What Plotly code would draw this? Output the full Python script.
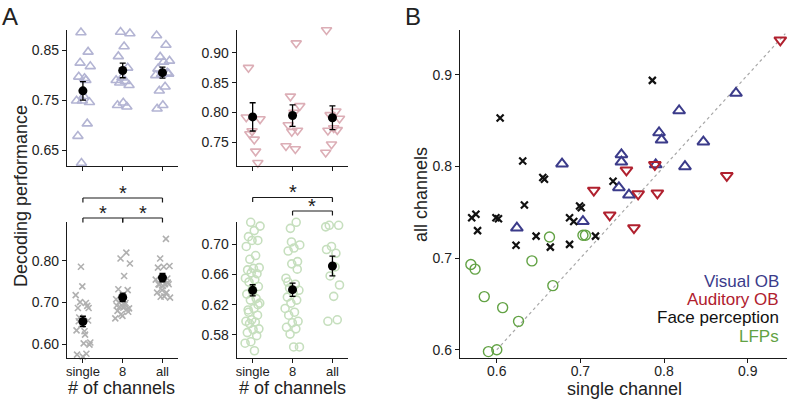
import numpy as np
import plotly.graph_objects as go

# ---------------- data ----------------
categories = ["single", "8", "all"]

visual_single = [0.886, 0.818, 0.794, 0.797, 0.847, 0.749, 0.749, 0.790, 0.825, 0.746, 0.758, 0.678, 0.703, 0.624]
visual_8 = [0.895, 0.887, 0.884, 0.858, 0.838, 0.815, 0.795, 0.790, 0.788, 0.785, 0.780, 0.745, 0.740, 0.737]
visual_all = [0.880, 0.861, 0.837, 0.829, 0.827, 0.813, 0.805, 0.802, 0.800, 0.777, 0.769, 0.803, 0.740, 0.733]

auditory_single = [0.939, 0.789, 0.755, 0.875, 0.716, 0.769, 0.792, 0.735, 0.764]
auditory_8 = [0.916, 0.827, 0.811, 0.800, 0.779, 0.770, 0.768, 0.744, 0.739]
auditory_all = [0.938, 0.802, 0.796, 0.790, 0.774, 0.770, 0.771, 0.747, 0.733]

face_single = [0.786, 0.604, 0.631, 0.655, 0.657, 0.739, 0.633, 0.699, 0.701, 0.599, 0.602,
               0.687, 0.692, 0.647, 0.718, 0.623, 0.664, 0.687, 0.570, 0.575, 0.577]
face_8 = [0.820, 0.806, 0.794, 0.764, 0.732, 0.730, 0.712, 0.708, 0.699, 0.690, 0.686,
          0.688, 0.680, 0.684, 0.672, 0.662, 0.695, 0.700, 0.678, 0.668, 0.693]
face_all = [0.894, 0.853, 0.806, 0.788, 0.786, 0.784, 0.758, 0.757, 0.755, 0.744, 0.743,
            0.744, 0.740, 0.724, 0.724, 0.714, 0.712, 0.715, 0.744, 0.748, 0.730]

lfp_single_channels = [0.729, 0.724, 0.718, 0.710, 0.705, 0.705, 0.697, 0.685, 0.680, 0.669,
                       0.668, 0.666, 0.661, 0.662, 0.655, 0.653, 0.650, 0.644, 0.637, 0.634,
                       0.628, 0.626, 0.622, 0.615, 0.613, 0.606, 0.600, 0.598, 0.597, 0.595,
                       0.588, 0.587, 0.583, 0.579, 0.571, 0.569, 0.559, 0.610, 0.620, 0.640]
lfp_8 = [0.729, 0.721, 0.699, 0.695, 0.691, 0.677, 0.674, 0.655, 0.647, 0.642, 0.639, 0.636,
         0.630, 0.626, 0.622, 0.615, 0.610, 0.606, 0.598, 0.596, 0.590, 0.588, 0.581, 0.564,
         0.564, 0.650, 0.667, 0.703]
lfp_best_single = [0.569, 0.574, 0.585, 0.607, 0.626, 0.590, 0.600, 0.642, 0.663, 0.667, 0.703, 0.706]
lfp_all = [0.693, 0.688, 0.658, 0.646, 0.631, 0.598, 0.600, 0.697, 0.723, 0.670, 0.725, 0.725]

legend_names = ["Visual OB", "Auditory OB", "Face perception", "LFPs"]

# ---------------- styles ----------------
W, H = 790, 399
FONT = "Liberation Sans, Arial, sans-serif"
TXT = "#222222"
light = {"vis": "#b3b4d3", "aud": "#dcaeb6", "face": "#b0b0b0", "lfp": "#c6dfbe"}
dark = {"vis": "#3b3b8a", "aud": "#b0202e", "face": "#111111", "lfp": "#62a244"}


def px_x(p):
    return p / W


def px_y(p):
    return 1 - p / H


fig = go.Figure()

panels = [
    ("x", "y", [visual_single, visual_8, visual_all], "triangle-up-open", "vis", 9),
    ("x2", "y2", [auditory_single, auditory_8, auditory_all], "triangle-down-open", "aud", 9),
    ("x3", "y3", [face_single, face_8, face_all], "x-thin", "face", 6),
    ("x4", "y4", [lfp_single_channels, lfp_8, lfp_all], "circle-open", "lfp", 8),
]


def jitter(n, k):
    return ((np.arange(n) * 0.6180339 + 0.37 * k) % 1.0 - 0.5) * 0.38


for xa, ya, groups, sym, ck, sz in panels:
    for i, g in enumerate(groups):
        g = np.asarray(g)
        mk = dict(symbol=sym, size=sz, color=light[ck], line=dict(width=1.6, color=light[ck]))
        fig.add_trace(go.Scatter(x=i + jitter(len(g), i + 1), y=g, mode="markers", marker=mk,
                                 xaxis=xa, yaxis=ya, showlegend=False, cliponaxis=False,
                                 hoverinfo="skip"))
    means = [float(np.mean(g)) for g in groups]
    sems = [float(np.std(g, ddof=1) / np.sqrt(len(g))) for g in groups]
    fig.add_trace(go.Scatter(x=[0, 1, 2], y=means, mode="markers",
                             marker=dict(symbol="circle", size=9, color="black"),
                             error_y=dict(type="data", array=sems, color="black", thickness=1.3, width=3),
                             xaxis=xa, yaxis=ya, showlegend=False, cliponaxis=False))

# Panel B scatter
b_sets = [
    (visual_single, visual_all, "triangle-up-open", "vis", 10.5, 2.0),
    (auditory_single, auditory_all, "triangle-down-open", "aud", 10.5, 2.0),
    (face_single, face_all, "x-thin", "face", 7, 2.2),
    (lfp_best_single, lfp_all, "circle-open", "lfp", 10, 1.4),
]
fig.add_trace(go.Scatter(x=[0.6, 0.945], y=[0.6, 0.945], mode="lines",
                         line=dict(color="#a8a8a8", width=1.2, dash="dot"),
                         xaxis="x5", yaxis="y5", showlegend=False, hoverinfo="skip"))
for xs, ys, sym, ck, sz, lw in b_sets:
    fig.add_trace(go.Scatter(x=xs, y=ys, mode="markers",
                             marker=dict(symbol=sym, size=sz, color=dark[ck],
                                         line=dict(width=lw, color=dark[ck])),
                             xaxis="x5", yaxis="y5", showlegend=False, cliponaxis=False))

# ---------------- axes ----------------
axis_common = dict(showline=True, linecolor="#1a1a1a", linewidth=1.3, ticks="outside",
                   ticklen=4, tickwidth=1.2, tickcolor="#1a1a1a", showgrid=False,
                   zeroline=False, mirror=False,
                   tickfont=dict(family=FONT, size=14, color=TXT))

top_y = [px_y(166), px_y(30)]
bot_y = [px_y(358.3), px_y(222.3)]
left_x = [px_x(67), px_x(178)]
right_x = [px_x(236.7), px_x(348)]
xr = [-0.4, 2.39]

layout = dict(
    width=W, height=H, margin=dict(l=0, r=0, t=0, b=0),
    paper_bgcolor="white", plot_bgcolor="white",
    font=dict(family=FONT, color=TXT),
    xaxis=dict(axis_common, domain=left_x, range=xr, tickvals=[0, 1, 2], showticklabels=False, anchor="y"),
    yaxis=dict(axis_common, domain=top_y, range=[0.618, 0.891], tickvals=[0.65, 0.75, 0.85],
               tickformat=".2f", anchor="x"),
    xaxis2=dict(axis_common, domain=right_x, range=xr, tickvals=[0, 1, 2], showticklabels=False, anchor="y2"),
    yaxis2=dict(axis_common, domain=top_y, range=[0.7105, 0.938], tickvals=[0.75, 0.80, 0.85, 0.90],
                tickformat=".2f", anchor="x2"),
    xaxis3=dict(axis_common, domain=left_x, range=xr, tickvals=[0, 1, 2], ticktext=categories,
                tickfont=dict(family=FONT, size=13, color=TXT), anchor="y3"),
    yaxis3=dict(axis_common, domain=bot_y, range=[0.566, 0.893], tickvals=[0.60, 0.70, 0.80],
                tickformat=".2f", anchor="x3"),
    xaxis4=dict(axis_common, domain=right_x, range=xr, tickvals=[0, 1, 2], ticktext=categories,
                tickfont=dict(family=FONT, size=13, color=TXT), anchor="y4"),
    yaxis4=dict(axis_common, domain=bot_y, range=[0.549, 0.729], tickvals=[0.58, 0.62, 0.66, 0.70],
                tickformat=".2f", anchor="x4"),
    xaxis5=dict(axis_common, domain=[px_x(460), px_x(787)], range=[0.556, 0.947],
                tickvals=[0.6, 0.7, 0.8, 0.9], anchor="y5"),
    yaxis5=dict(axis_common, domain=[px_y(358), px_y(30)], range=[0.591, 0.949],
                tickvals=[0.6, 0.7, 0.8, 0.9], anchor="x5"),
)
fig.update_layout(**layout)
try:
    fig.update_layout(xaxis3_ticklabelstandoff=-3, xaxis4_ticklabelstandoff=-3,
                      xaxis5_ticklabelstandoff=-4)
except Exception:
    pass

# ---------------- significance brackets ----------------
shapes = []
annotations = []


def bracket(xref, x0, x1, ypx, drop=4.5, star_dy=5):
    yl = px_y(ypx)
    yd = px_y(ypx + drop)
    ln = dict(color="#1a1a1a", width=1.2)
    shapes.append(dict(type="line", xref=xref, yref="paper", x0=x0, x1=x1, y0=yl, y1=yl, line=ln))
    shapes.append(dict(type="line", xref=xref, yref="paper", x0=x0, x1=x0, y0=yl, y1=yd, line=ln))
    shapes.append(dict(type="line", xref=xref, yref="paper", x0=x1, x1=x1, y0=yl, y1=yd, line=ln))
    annotations.append(dict(text="*", xref=xref, yref="paper", x=(x0 + x1) / 2, y=px_y(ypx - star_dy),
                            showarrow=False, xanchor="center", yanchor="middle",
                            font=dict(family=FONT, size=20, color="#1a1a1a")))


bracket("x3", 0, 2, 198)
bracket("x3", 0, 1, 218)
bracket("x3", 1, 2, 218)
bracket("x4", 0, 2, 197.5)
bracket("x4", 1, 2, 211)


# ---------------- texts ----------------
def text(t, x, y, size, color=TXT, angle=0, xanchor="center", yanchor="middle"):
    annotations.append(dict(text=t, xref="paper", yref="paper", x=px_x(x), y=px_y(y), showarrow=False,
                            textangle=angle, xanchor=xanchor, yanchor=yanchor,
                            font=dict(family=FONT, size=size, color=color)))


text("A", 10, 16, 24)
text("B", 413, 16, 24)
text("Decoding performance", 21, 196, 18, angle=-90)
text("# of channels", 122, 388, 18)
text("# of channels", 292, 388, 18)
text("single channel", 624, 388.5, 18)
text("all channels", 421, 194, 18, angle=-90)
leg_colors = [dark["vis"], dark["aud"], dark["face"], dark["lfp"]]
for name, col, yy in zip(legend_names, leg_colors, [281, 299, 317, 336]):
    text(name, 781, yy, 17, color=col, xanchor="right")

fig.update_layout(shapes=shapes, annotations=annotations)
fig.write_html("out.html", config={"displayModeBar": False},
               post_script="document.body.style.margin='0';document.body.style.overflow='hidden';")
